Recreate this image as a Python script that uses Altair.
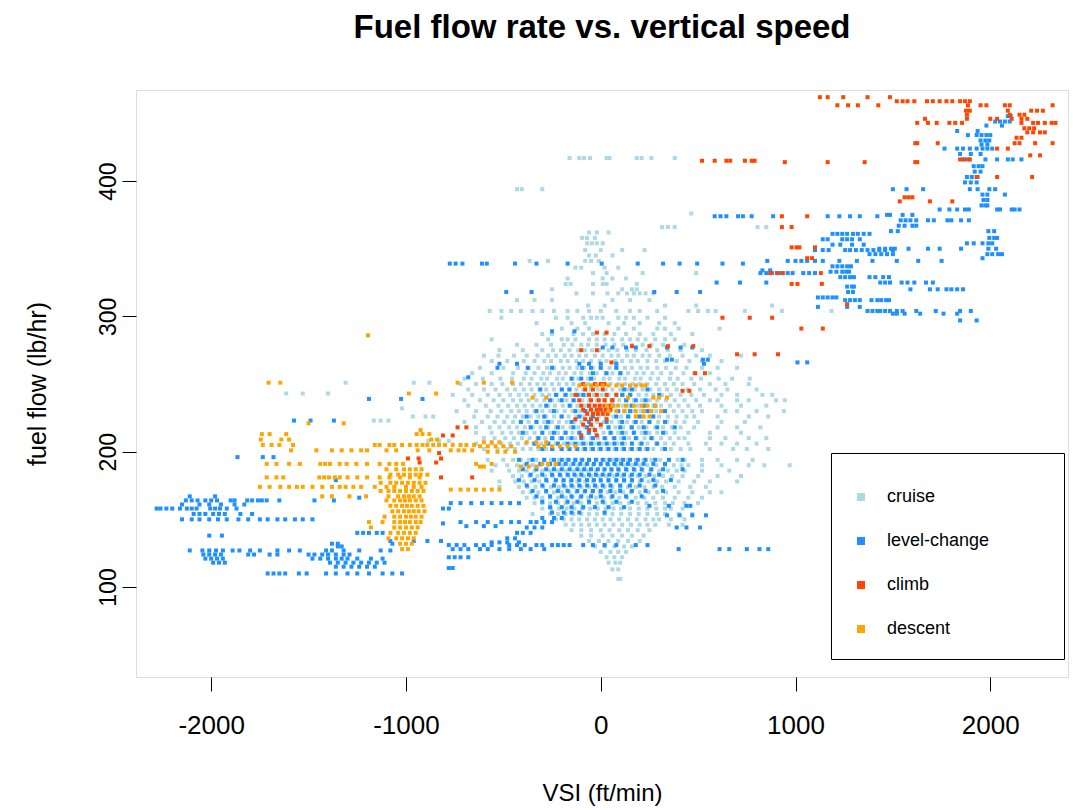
import altair as alt
import pandas as pd

# Each table row: (fuel flow in lb/hr, [VSI readings in ft/min at that fuel flow])
CRUISE = [
    (417, [-160, -110, -85, -55, 30, 45, 185, 210, 260, 380]),
    (394, [-430, -405, -300]),
    (376, [465]),
    (366, [315, 345, 380, 805, 850]),
    (362, [-60, -20, 40]),
    (358, [-95, -70, -30]),
    (354, [-70, -45, -20, 10]),
    (349, [-80, 0, 110, 225]),
    (345, [-60, -25, 60]),
    (341, [-365, -270, -80, -50, -10]),
    (336, [-130, -100, 20, 90]),
    (332, [-40, 30, 215, 490]),
    (328, [-170, 10, 60, 130]),
    (324, [-180, -155, -40, 10, 30, 185]),
    (320, [-250, 110, 160, 185]),
    (317, [-125, -40, 35, 90, 135, 170, 200, 230, 270]),
    (312, [-430, -340, -250, 60, 150, 250]),
    (308, [-65, 20, 330, 490, 880]),
    (304, [-570, -510, -460, -410, -350, -300, -240, -170, -120, -60, 0, 80, 150, 200, 290, 450, 500, 550, 590, 740, 930, 1185]),
    (299, [-510, -230, -170, -90, -50, -20, 10, 90, 130, 170, 240, 330]),
    (295, [-330, -150, -80, 40, 120, 200, 300, 380]),
    (291, [-200, -120, -60, 90, 170, 290, 330, 400, 610]),
    (287, [-300, -250, -140, -90, -40, 20, 70, 130, 200, 270, 360, 470]),
    (283, [-560, -270, -200, -170, -130, -60, -20, 20, 60, 110, 150, 190, 230, 280, 330, 380]),
    (279, [-430, -330, -255, -190, -145, -100, -65, -20, 25, 70, 115, 160, 215, 260, 320, 430]),
    (275, [-520, -400, -300, -245, -205, -160, -115, -80, -45, -10, 40, 85, 135, 180, 235, 290, 345, 410, 520]),
    (271, [-600, -525, -445, -380, -325, -270, -230, -185, -150, -110, -75, -30, 10, 55, 90, 135, 170, 215, 250, 300, 355, 420, 490, 560, 720]),
    (267, [-560, -480, -395, -340, -290, -255, -205, -170, -125, -90, -50, -5, 30, 75, 110, 155, 190, 240, 285, 330, 390, 455, 520, 620]),
    (262, [-620, -500, -425, -370, -320, -275, -240, -195, -160, -120, -85, -40, 0, 45, 80, 125, 160, 205, 240, 290, 335, 385, 440, 520, 600, 700]),
    (258, [-660, -560, -450, -385, -340, -295, -260, -215, -180, -135, -100, -55, -20, 25, 60, 105, 140, 185, 220, 265, 310, 360, 425, 480, 560]),
    (254, [-700, -605, -515, -455, -395, -355, -305, -275, -225, -195, -145, -115, -65, -35, 15, 45, 95, 125, 175, 205, 255, 295, 355, 395, 465, 515, 605, 675, 765]),
    (251, [-1310, -960, -880]),
    (250, [-720, -640, -560, -505, -450, -410, -365, -325, -290, -250, -215, -175, -140, -100, -65, -25, 15, 50, 90, 125, 165, 200, 240, 285, 330, 375, 420, 480, 560, 640, 760]),
    (246, [-680, -600, -540, -480, -440, -395, -355, -315, -280, -240, -200, -165, -125, -90, -50, -15, 25, 60, 100, 140, 175, 215, 255, 300, 340, 390, 445, 510, 590, 650, 800]),
    (243, [-1615, -1530, -1400]),
    (242, [-760, -660, -580, -520, -465, -420, -380, -340, -300, -265, -225, -185, -150, -110, -75, -35, 5, 40, 80, 115, 155, 195, 235, 270, 315, 360, 410, 465, 530, 620, 700, 830, 880]),
    (238, [-700, -620, -550, -500, -450, -410, -370, -330, -290, -250, -215, -175, -135, -95, -60, -20, 20, 55, 95, 135, 170, 210, 250, 290, 335, 380, 430, 490, 560, 600, 700, 760, 900, 945]),
    (234, [-680, -590, -525, -475, -430, -390, -350, -310, -270, -235, -195, -155, -120, -80, -40, 0, 35, 75, 115, 150, 190, 230, 270, 310, 355, 400, 450, 510, 620, 720, 850]),
    (232, [-1020]),
    (230, [-740, -640, -565, -510, -460, -420, -380, -340, -300, -260, -225, -185, -145, -105, -70, -30, 10, 45, 85, 125, 165, 205, 245, 285, 330, 375, 420, 470, 520, 640, 700, 800, 940]),
    (226, [-965, -900, -860, -650, -580, -530, -480, -440, -400, -360, -320, -280, -240, -205, -165, -125, -90, -50, -10, 25, 65, 105, 145, 180, 220, 260, 300, 345, 390, 440, 480, 600, 760, 860]),
    (223, [-1165, -1130, -1090]),
    (222, [-700, -610, -545, -495, -450, -410, -370, -330, -290, -250, -215, -175, -135, -100, -60, -20, 15, 55, 95, 135, 170, 210, 250, 295, 340, 385, 430, 500, 620, 740]),
    (218, [-640, -570, -520, -470, -430, -390, -350, -310, -270, -230, -195, -155, -115, -80, -40, 0, 40, 75, 115, 155, 195, 235, 280, 320, 365, 410, 480, 600, 700, 820]),
    (214, [-640, -560, -505, -460, -420, -380, -340, -300, -260, -220, -185, -145, -105, -65, -25, 15, 55, 90, 130, 170, 210, 250, 290, 335, 380, 450, 560, 720]),
    (210, [-600, -545, -490, -445, -405, -365, -325, -285, -245, -210, -170, -130, -90, -50, -15, 25, 65, 105, 145, 185, 225, 265, 310, 355, 400, 430, 560, 640, 760, 850]),
    (208, [-885, -830, -780]),
    (206, [-640, -560, -510, -465, -425, -385, -345, -305, -265, -230, -190, -150, -110, -75, -35, 5, 45, 85, 125, 160, 200, 240, 285, 330, 375, 450, 540, 620, 700, 800]),
    (202, [-600, -530, -480, -440, -400, -360, -320, -280, -245, -205, -165, -125, -90, -50, -10, 30, 70, 110, 150, 190, 230, 270, 315, 360, 410, 460, 560, 680, 750, 860]),
    (194, [-580, -500, -450, -410, -370, -330, -290, -255, -215, -175, -135, -100, -60, -20, 20, 60, 100, 140, 180, 220, 260, 305, 350, 395, 430, 520, 600, 700, 780]),
    (190, [-540, -480, -430, -390, -350, -310, -270, -235, -195, -155, -115, -80, -40, 0, 40, 80, 120, 160, 200, 240, 285, 330, 375, 415, 450, 520, 620, 760, 840, 970]),
    (186, [-560, -470, -420, -380, -340, -300, -260, -220, -180, -140, -100, -65, -25, 15, 55, 95, 135, 175, 215, 255, 300, 345, 390, 430, 520, 660]),
    (182, [-450, -405, -365, -325, -285, -245, -205, -165, -125, -85, -50, -10, 30, 70, 110, 150, 190, 230, 275, 320, 365, 420, 500, 600, 720]),
    (178, [-520, -440, -395, -355, -315, -275, -235, -195, -155, -120, -80, -40, 0, 40, 80, 120, 160, 200, 245, 290, 335, 400, 480, 560, 700]),
    (174, [-520, -420, -375, -335, -295, -255, -215, -180, -140, -100, -60, -20, 20, 60, 100, 140, 180, 225, 270, 315, 380, 460, 540]),
    (170, [-400, -360, -320, -280, -240, -200, -160, -125, -85, -45, -5, 35, 75, 115, 155, 200, 245, 290, 335, 400, 470, 560, 620]),
    (166, [-380, -340, -300, -260, -220, -180, -145, -105, -65, -25, 15, 55, 95, 135, 180, 225, 270, 320, 380, 450, 520]),
    (162, [-340, -300, -260, -220, -180, -140, -100, -60, -20, 20, 60, 100, 145, 190, 235, 280, 330, 370, 430, 500]),
    (158, [-300, -255, -215, -175, -135, -95, -55, -15, 25, 65, 105, 150, 195, 240, 285, 330, 360, 420]),
    (154, [-350, -260, -220, -180, -140, -100, -60, -20, 20, 60, 105, 150, 195, 240, 290, 330, 400, 470]),
    (150, [-230, -190, -150, -110, -70, -30, 10, 50, 95, 140, 185, 230, 270, 300, 360, 430]),
    (146, [-180, -140, -100, -60, -20, 20, 65, 110, 155, 200, 240, 280, 350, 420]),
    (142, [-150, -100, -50, 0, 45, 95, 140, 190, 250]),
    (138, [-100, -50, 10, 60, 110, 160, 220]),
    (134, [-60, -10, 40, 90, 140, 200]),
    (130, [-30, 20, 70, 120, 160]),
    (126, [0, 50, 90, 130]),
    (122, [30, 70, 110]),
    (118, [40, 75, 100]),
    (113, [60, 90]),
    (106, [90, 100]),
]

LEVEL_CHANGE = [
    (448, [2090, 2105]),
    (444, [2025, 2050, 2075, 2100]),
    (441, [1980, 2060]),
    (437, [1830, 1935]),
    (434, [1885, 1930, 1955, 1980, 2000]),
    (430, [1950, 1975, 1995]),
    (427, [1955, 1985]),
    (424, [1765, 1830, 1860, 1895, 1930, 1960, 1985, 2010]),
    (420, [1845, 1900, 1950]),
    (416, [1860, 1890, 1975, 2035, 2090, 2115, 2160]),
    (411, [1915, 1940, 1960]),
    (407, [1920, 1950]),
    (403, [1880, 1905, 1935]),
    (399, [1870, 1900, 1930]),
    (394, [1500, 1570, 1655, 1895, 1935, 1995, 2025]),
    (390, [1960, 1985, 2075]),
    (386, [1965, 1985]),
    (382, [1955, 1975, 1985]),
    (379, [1740, 1790, 1830, 1870, 1890, 2035, 2050, 2110, 2125, 2150]),
    (375, [1470, 1485, 1550, 1600]),
    (374, [585, 615, 645, 705, 730, 775, 885, 1165, 1225, 1280, 1330, 1420]),
    (371, [1540, 1565, 1590, 1620, 1680, 1710, 1780, 1800, 1850, 1890]),
    (367, [1530, 1560, 1600, 1620]),
    (363, [1490, 1525, 1990, 2020]),
    (361, [1190, 1215, 1240, 1265, 1295, 1320, 1350, 1380]),
    (358, [1995, 2020, 2035]),
    (357, [1140, 1165, 1240, 1265, 1290, 1330]),
    (354, [1880, 1915, 1960, 1990, 2010]),
    (353, [1190, 1230, 1290, 1350]),
    (350, [1430, 1460, 1490, 1510, 1580, 1680, 1740, 1850, 1990, 2030]),
    (349, [1100, 1140, 1170, 1255, 1280, 1310, 1340, 1370, 1400, 1430, 1460, 1500]),
    (346, [1380, 1410, 1440, 1470, 1500, 1985, 2010, 2040, 2060]),
    (343, [1960]),
    (341, [855, 960, 1000, 1030, 1060, 1100, 1140, 1225, 1315, 1395, 1520, 1630, 1750]),
    (339, [-775, -745, -710, -610, -585, -440, -330, -170, 5, 190, 320, 405, 495, 625, 730]),
    (337, [1190, 1215, 1240, 1265, 1285]),
    (334, [830, 870]),
    (333, [1180, 1210, 1240, 1260, 1275]),
    (332, [820, 850, 880, 915, 960, 985, 1040, 1070, 1100]),
    (329, [1230, 1255, 1280, 1300, 1380, 1410, 1450, 1480]),
    (325, [595, 715, 850, 1435, 1460, 1485, 1545, 1575, 1610, 1670, 1705]),
    (322, [1265, 1290, 1300]),
    (320, [1590, 1690, 1730, 1775, 1800, 1830, 1860]),
    (318, [-485, -355, 275, 390, 510, 1270, 1295]),
    (314, [1115, 1140, 1165, 1190, 1210]),
    (312, [1255, 1280, 1305, 1330, 1390, 1420, 1440, 1465, 1480]),
    (307, [1115, 1265, 1330]),
    (304, [1370, 1395, 1420, 1435, 1460, 1485, 1520, 1550, 1620, 1720, 1845, 1900]),
    (302, [1500, 1520, 1560, 1640, 1760, 1830]),
    (297, [1845, 1930]),
    (289, [-250, -135]),
    (277, [10, 60, 130, 180, 340, 410, 470]),
    (268, [340, 365, 525, 550]),
    (266, [1010, 1060]),
    (265, [-520, -430, -110, -60, 0, 80, 530]),
    (262, [-530, -375, -250, -95, -50, 0, 80]),
    (258, [-40, 30, 100]),
    (255, [-680]),
    (254, [-150, -100, -50]),
    (246, [-310, -200, -160, 120, 160, 240]),
    (242, [-230, -180, -120, -90, 110, 150, 300]),
    (239, [-1190, -1025, -915]),
    (238, [-260, -200, -140, 60, 130, 180, 230]),
    (234, [-280, -160, -60, 60, 160, 220, 280]),
    (230, [-330, -240, -130, -80, 90, 150, 240, 330]),
    (226, [-380, -290, -200, -110, -40, 80, 140, 200, 270]),
    (223, [-1575, -1490, -1370]),
    (222, [-410, -330, -270, -150, -60, 30, 110, 180, 250, 330]),
    (218, [-360, -280, -220, -140, -70, 40, 100, 160, 220, 290, 380]),
    (214, [-400, -300, -240, -180, -110, -60, 50, 110, 170, 230, 320]),
    (210, [-320, -250, -200, -150, -100, -40, 20, 70, 120, 180, 260]),
    (206, [-340, -270, -220, -170, -130, -90, -50, -10, 30, 70, 110, 160, 210, 290]),
    (202, [-300, -250, -200, -160, -120, -80, -40, 0, 40, 80, 120, 160, 200, 240, 330]),
    (196, [-1865, -1735, -1680]),
    (194, [-420, -350, -290, -240, -200, -165, -130, -95, -60, -25, 10, 45, 80, 115, 150, 190, 230, 280, 350, 420]),
    (191, [-380, -310, -260, -215, -180, -140, -105, -70, -35, 0, 35, 70, 105, 140, 180, 220, 270, 330]),
    (187, [-400, -330, -280, -240, -200, -160, -120, -85, -50, -15, 20, 55, 90, 130, 170, 210, 260, 320, 420]),
    (183, [-360, -300, -250, -210, -170, -135, -100, -60, -25, 10, 45, 85, 120, 160, 200, 250, 300]),
    (179, [-1360, -420, -340, -280, -230, -190, -150, -110, -70, -35, 0, 40, 80, 120, 160, 210, 270, 360]),
    (175, [-380, -300, -240, -190, -150, -110, -70, -30, 10, 50, 100, 150, 200, 280]),
    (171, [-350, -280, -220, -170, -120, -80, -40, 0, 50, 100, 160, 230, 320]),
    (167, [-2110, -1980, -330, -260, -200, -150, -100, -50, 0, 60, 130, 210]),
    (166, [-1240]),
    (164, [-2130, -2100, -2070, -2030, -2000, -1970, -1900, -1880, -1815, -1790, -1760, -1740, -1715, -1650, -1470, -1370]),
    (163, [-300, -230, -170, -120, -60, 10, 80, 160]),
    (162, [-770, -720, -665, -610, -560, -510, -465, -420]),
    (161, [-2150, -2060, -2010, -1950, -1880, -1830]),
    (160, [250, 350, 440, 460]),
    (159, [-260, -200, -150, -90, -30, 40, 120]),
    (158, [-2280, -2260, -2230, -2200, -2160, -2125, -2100, -2075, -2005, -1980, -1955, -1920, -1870, -810, -780]),
    (155, [-250, -190, -150, -110, 20]),
    (154, [-2090, -2060, -2030, -1990, -1960, -1930, -1850, -1790]),
    (153, [340, 405, 470, 540]),
    (151, [-300, -240, -200]),
    (150, [-2150, -2100, -2060, -2010, -1965, -1920, -1860, -1810, -1750, -1710, -1660, -1620, -1570, -1530, -1480]),
    (148, [-720, -640, -580, -510, -460, -420, -360, -330, -290, -250]),
    (147, [-810]),
    (145, [-690, -600, -540]),
    (144, [-380, -340, -300, 390, 440, 510]),
    (140, [-1250, -1220, -1190, -1150, -1120, -430, -400, -360]),
    (138, [-2010, -1945]),
    (136, [-480, -440]),
    (134, [-1080, -960, -890, -820]),
    (133, [-560, -520, -480, -420]),
    (132, [-1380, -1350, -1070]),
    (131, [-780, -740, -700, -640, -600, -560, -470, -430, -390, -330, -300, -250, -220, -190, -160, -90, -40, 20, 80, 180, 240]),
    (130, [-1350, -1330]),
    (128, [-760, -720, -680, -620, -580, -520, -470, -410, -360, -290, 400, 610, 660, 750, 815, 860]),
    (127, [-2110, -2045, -2010, -1975, -1940, -1890, -1855, -1800, -1750, -1660, -1600, -1545, -1410, -1380, -1320, -1240, -1130, -1080]),
    (124, [-2040, -2010, -1980, -1950, -1810, -1780, -1700, -1660, -1500, -1470, -1430, -1400, -1360, -1320, -1290]),
    (122, [-780, -750, -720, -680]),
    (121, [-2030, -2000, -1970, -1940, -1480, -1440, -1400, -1360, -1330, -1300, -1250, -1180, -1120]),
    (118, [-1990, -1960, -1930, -1390, -1350, -1310, -1270, -1230, -1190, -1150, -1110]),
    (115, [-1360, -1320, -1280, -1240, -1200, -1160]),
    (114, [-780, -760]),
    (110, [-1710, -1680, -1650, -1620, -1550, -1510, -1410, -1360, -1300, -1250, -1190, -1120, -1070, -1020]),
]

CLIMB = [
    (462, [1125, 1165, 1245, 1370, 1485]),
    (459, [1520, 1550, 1575, 1610, 1675, 1705, 1740, 1775, 1805, 1845, 1870, 1895]),
    (456, [1215, 1270, 1320, 1425, 1885, 1950, 1980, 2075, 2100, 2320]),
    (452, [1875, 1895, 2090, 2210, 2240, 2270]),
    (449, [1880, 2100, 2150, 2175]),
    (446, [1665, 1880, 2000, 2035, 2110, 2160, 2190]),
    (443, [1625, 1680, 1725, 1790, 1820, 1855, 2160, 2220, 2245, 2280, 2315, 2335]),
    (439, [2175, 2200, 2225]),
    (436, [2190, 2220, 2255, 2280]),
    (432, [2135, 2160]),
    (428, [1615, 1625, 1730, 2125, 2150, 2230, 2320]),
    (424, [2035, 2090]),
    (419, [2205, 2255]),
    (416, [1845, 1870, 1895]),
    (415, [520, 585, 645, 665, 740, 775, 790]),
    (414, [945, 1165, 1355, 1615, 1625]),
    (403, [1930, 2035, 2215]),
    (388, [1560, 1580, 1600]),
    (385, [1535, 1690, 1805]),
    (374, [930, 1060]),
    (366, [930, 980]),
    (351, [980, 1005, 1020, 1100]),
    (343, [1060, 1085]),
    (332, [870, 905, 935, 1130]),
    (324, [980, 1010, 1135]),
    (309, [1265]),
    (299, [625, 765, 880]),
    (291, [1030, 1140]),
    (288, [-20, 30]),
    (278, [160, 250, 345, 475]),
    (275, [-100, -20]),
    (272, [700, 790, 910]),
    (266, [55]),
    (258, [485, 535]),
    (250, [-90, -30, 0, 20]),
    (246, [-80, -40, 10]),
    (245, [420, 455]),
    (242, [-130, -60, -20, 30, 80]),
    (238, [-110, -50, -10, 20, 60]),
    (234, [-100, -60, -30, -5, 20, 50]),
    (231, [-90, -50, -20, 0, 25, 50]),
    (228, [-70, -40, -15, 10, 35]),
    (224, [-130, -80, -50, -20, 30]),
    (220, [-90, -50, 0]),
    (218, [-735, -690]),
    (216, [-60, -30]),
    (212, [-810, -760, -100, -20]),
    (199, [-830]),
    (195, [-990, -935, -820]),
    (192, [-930, -845]),
    (181, [-820, -660]),
]

DESCENT = [
    (286, [-1195]),
    (251, [-1705, -1645, -735, -600, -455]),
    (249, [-110, -80, -50, -20, 10, 40, 80, 110, 150, 180, 210, 230]),
    (243, [-985, -845]),
    (240, [-350, -280, 140, 270, 300, 340]),
    (234, [30, 60, 90, 130, 170, 210, 240, 280]),
    (230, [40, 80, 120, 180, 220, 260, 310]),
    (226, [180, 220, 250]),
    (221, [-1500, -1320]),
    (216, [-925]),
    (213, [-1740, -1700, -1615, -945, -915, -880]),
    (209, [-1745, -1640, -1600, -870, -840]),
    (207, [-600, -560, -520, -380, -330, -280]),
    (205, [-1735, -1690, -1650, -1580, -1160, -1135, -1085, -1060, -1020, -980, -945, -915, -890, -860, -830, -800, -760, -720, -690, -650]),
    (204, [-620, -580, -540, -500, -460, -320, -290, -250, -210, -170, -130]),
    (201, [-1590, -1460, -1380, -1330, -1280, -1230, -1200, -1100, -1050, -940, -880, -770, -730, -700, -660]),
    (200, [-580, -530, -490, -440]),
    (191, [-1715, -1665, -1600, -1545, -1440, -1415, -1390, -1340, -1305, -1255, -1200, -1135, -1085, -1050, -1015, -640, -560, -300, -270, -230]),
    (189, [-620, -600, -410, -370, -330]),
    (187, [-1100, -1050, -1010, -980, -950, -920]),
    (183, [-1080, -1040, -1010, -980, -950, -925, -890]),
    (181, [-1715, -1665, -1630, -1445, -1420, -1395, -1365, -1340, -1300, -1250, -1200, -1135, -1085, -1030, -980, -930]),
    (177, [-1130, -1080, -1050, -1020, -990, -960, -930, -900]),
    (174, [-1750, -1700, -1645, -1600, -1560, -1530, -1480, -1430, -1380, -1340, -1310, -1270, -1230, -1160, -1100, -1060, -1000, -960, -920]),
    (172, [-770, -720, -680, -640, -600, -560, -520]),
    (171, [-1130, -1090, -1060, -1030, -1000, -970, -940, -910]),
    (167, [-1430, -1380, -1290, -1205, -1090, -1040, -1010, -985, -960, -930]),
    (164, [-1100, -1060, -1030, -1005, -980, -950, -920]),
    (160, [-1080, -1050, -1020, -995, -970, -940, -910]),
    (156, [-1070, -1040, -1010, -985, -960, -935, -905]),
    (152, [-1110, -1060, -1030, -1000, -975, -950, -920]),
    (148, [-1190, -1120, -1060, -1030, -1005, -980, -950, -925]),
    (144, [-1180, -1060, -1030, -1000, -970, -940]),
    (140, [-1080, -1040, -1010, -980, -950]),
    (136, [-1090, -1050, -1020, -990, -960]),
    (132, [-1030, -1000, -970]),
    (128, [-1020, -990]),
]

PHASES = ["cruise", "level-change", "climb", "descent"]
COLORS = ["#ADD8E6", "#1E90FF", "#FF4500", "#FFA500"]
X_TICKS = [-2000, -1000, 0, 1000, 2000]
Y_TICKS = [100, 200, 300, 400]

records = []
for phase, table in zip(PHASES, [CRUISE, LEVEL_CHANGE, CLIMB, DESCENT]):
    for fuel, speeds in table:
        for vsi in speeds:
            records.append({"vsi": vsi, "fuel": fuel, "phase": phase})
df = pd.DataFrame(records)
df["draw_order"] = range(len(df))

FONT = "Liberation Sans"
# Blank legend heading: bracketed by zero-width spaces so its width is kept,
# which sets the width of the framed legend box.
LEGEND_SPACER = "\u200b" + "\u00a0" * 49 + "\u200b"
# Plain hyphen-minus tick labels (e.g. "-2000")
PLAIN_LABEL = "'' + datum.value"

chart = (
    alt.Chart(df)
    .mark_square(size=16, opacity=1, strokeWidth=0)
    .encode(
        x=alt.X(
            "vsi:Q",
            scale=alt.Scale(domain=[-2386, 2399], nice=False, zero=False),
            axis=alt.Axis(values=X_TICKS, labelExpr=PLAIN_LABEL, title="VSI (ft/min)", grid=False, domain=False,
                          tickSize=14, tickColor="black", tickWidth=1,
                          labelFontSize=26, labelColor="black", labelPadding=21,
                          titleFontSize=24, titleFontWeight="normal", titleColor="black",
                          titlePadding=43, labelFont=FONT, titleFont=FONT),
        ),
        y=alt.Y(
            "fuel:Q",
            scale=alt.Scale(domain=[33.5, 467.3], nice=False, zero=False),
            axis=alt.Axis(values=Y_TICKS, labelExpr=PLAIN_LABEL, title="fuel flow (lb/hr)", grid=False, domain=False,
                          tickSize=14, tickColor="black", tickWidth=1,
                          labelFontSize=23, labelColor="black", labelAngle=270,
                          labelAlign="center", labelBaseline="bottom", labelPadding=2,
                          titleFontSize=25, titleFontWeight="normal", titleColor="black",
                          titlePadding=47, labelFont=FONT, titleFont=FONT),
        ),
        color=alt.Color(
            "phase:N",
            scale=alt.Scale(domain=PHASES, range=COLORS),
            legend=alt.Legend(
                title=LEGEND_SPACER, titleFontSize=14, titleFont=FONT, titlePadding=0, titleLimit=600,
                orient="none", legendX=695, legendY=363,
                symbolType="square", symbolSize=64, symbolStrokeWidth=0,
                labelFontSize=18, labelFont=FONT, labelColor="black", labelOffset=17,
                labelLimit=400, rowPadding=26, padding=21,
                strokeColor="black", fillColor="white",
            ),
        ),
        order=alt.Order("draw_order:Q"),
    )
    .properties(
        width=932,
        height=587,
        title=alt.TitleParams(
            "Fuel flow rate vs. vertical speed", fontSize=33, fontWeight="bold",
            font=FONT, anchor="middle", baseline="alphabetic", offset=19, color="black",
        ),
        autosize=alt.AutoSizeParams(type="none"),
        padding={"left": 136, "top": 90, "right": 5, "bottom": 133},
    )
    .configure_view(stroke="black", strokeWidth=1.2)
    .configure(background="white")
)

chart.save("out.html", embed_options={"renderer": "svg", "actions": False})
